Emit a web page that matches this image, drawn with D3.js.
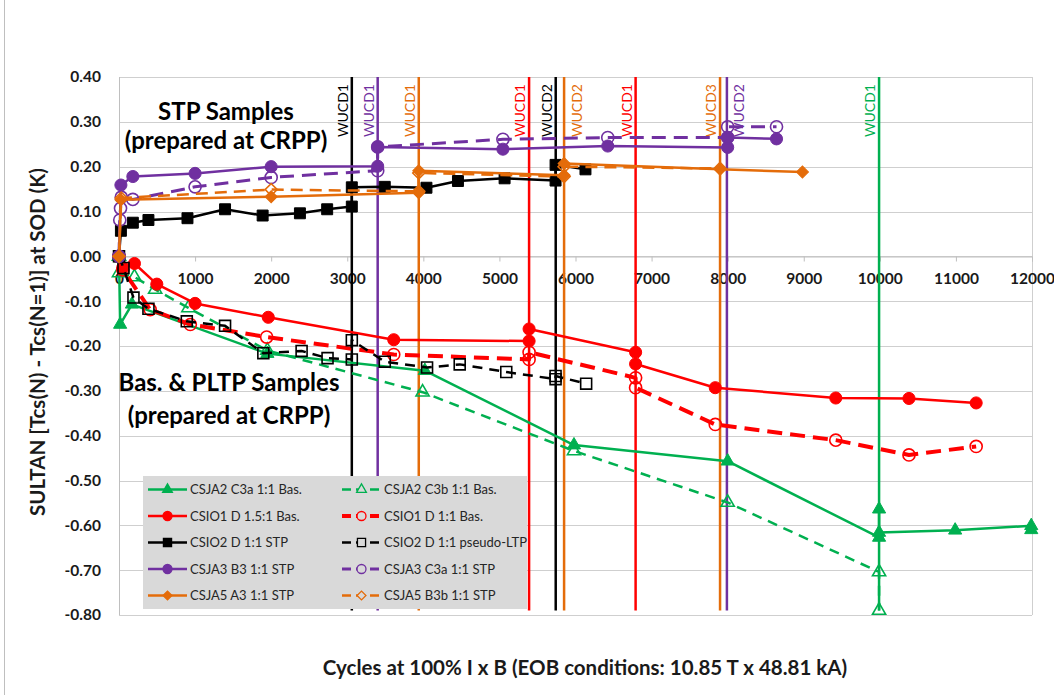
<!DOCTYPE html>
<html>
<head>
<meta charset="utf-8">
<script src="https://cdn.jsdelivr.net/npm/d3@7"></script>
<style>
  body { margin: 0; background: #ffffff; }
  svg { display: block; font-family: Lato, "Open Sans", "DejaVu Sans", sans-serif; }
</style>
</head>
<body>
<svg id="chart" width="1054" height="695"></svg>
<script>
// ---------- axis ticks ----------
const xTickValues = [0, 1000, 2000, 3000, 4000, 5000, 6000, 7000, 8000, 9000, 10000, 11000, 12000];
const yTickValues = [0.40, 0.30, 0.20, 0.10, 0.00, -0.10, -0.20, -0.30, -0.40, -0.50, -0.60, -0.70, -0.80];

// ---------- series: cycles and Tcs shift (K) ----------
// CSJA2 C3a 1:1 Bas.
const csja2C3aCycles = [0, 15, 170, 1950, 4020, 5980, 8000, 9990, 9990, 9990, 10990, 11990, 11990];
const csja2C3aShift  = [0, -0.152, -0.107, -0.217, -0.255, -0.421, -0.457, -0.627, -0.564, -0.616, -0.611, -0.601, -0.610];
// CSJA2 C3b 1:1 Bas.
const csja2C3bCycles = [0, 0, 203, 475, 912, 1950, 3990, 5980, 8000, 9990, 9990];
const csja2C3bShift  = [0, -0.037, -0.046, -0.074, -0.115, -0.210, -0.303, -0.434, -0.549, -0.704, -0.790];
// CSIO1 D 1.5:1 Bas.
const csio1D15Cycles = [0, 50, 203, 497, 1000, 1962, 3611, 5390, 5390, 6790, 6790, 7837, 9421, 10383, 11266];
const csio1D15Shift  = [0, -0.025, -0.016, -0.062, -0.105, -0.136, -0.186, -0.189, -0.162, -0.214, -0.240, -0.293, -0.316, -0.317, -0.327];
// CSIO1 D 1:1 Bas.
const csio1D11Cycles = [0, 50, 410, 937, 1941, 3611, 5390, 5390, 6790, 6790, 7837, 9421, 10383, 11266];
const csio1D11Shift  = [0, -0.030, -0.119, -0.152, -0.180, -0.219, -0.230, -0.214, -0.271, -0.293, -0.375, -0.410, -0.443, -0.424];
// CSIO2 D 1:1 STP
const csio2StpCycles = [0, 25, 182, 387, 900, 1394, 1888, 2378, 2736, 3060, 3060, 3493, 4041, 4455, 5068, 5738, 5738, 6131];
const csio2StpShift  = [0, 0.057, 0.075, 0.081, 0.085, 0.105, 0.091, 0.096, 0.105, 0.111, 0.154, 0.155, 0.153, 0.168, 0.174, 0.169, 0.204, 0.194];
// CSIO2 D 1:1 pseudo-LTP
const csio2LtpCycles = [0, 59, 190, 387, 891, 1394, 1897, 2400, 2741, 3060, 3060, 3493, 4049, 4478, 5090, 5738, 5738, 6140];
const csio2LtpShift  = [0, -0.026, -0.092, -0.117, -0.145, -0.155, -0.216, -0.211, -0.227, -0.230, -0.187, -0.235, -0.248, -0.241, -0.258, -0.274, -0.267, -0.284];
// CSJA3 B3 1:1 STP
const csja3B3Cycles = [0, 25, 182, 1000, 2000, 3400, 3400, 5046, 6424, 8000, 8000, 8642];
const csja3B3Shift  = [0, 0.159, 0.178, 0.185, 0.200, 0.201, 0.244, 0.239, 0.246, 0.243, 0.265, 0.262];
// CSJA3 C3a 1:1 STP
const csja3C3aCycles = [0, 10, 20, 30, 182, 1000, 2000, 3400, 3400, 5046, 6424, 8000, 8000, 8642];
const csja3C3aShift  = [0, 0.081, 0.107, 0.132, 0.127, 0.155, 0.176, 0.191, 0.244, 0.261, 0.265, 0.265, 0.289, 0.289];
// CSJA5 A3 1:1 STP
const csja5A3Cycles = [0, 25, 2000, 3940, 3940, 5850, 5850, 7900, 8983];
const csja5A3Shift  = [0, 0.126, 0.133, 0.142, 0.191, 0.181, 0.207, 0.194, 0.188];
// CSJA5 B3b 1:1 STP
const csja5B3bCycles = [0, 30, 2000, 3940, 3940, 5850, 5850, 7900];
const csja5B3bShift  = [0, 0.130, 0.149, 0.145, 0.186, 0.178, 0.200, 0.196];

// ---------- warm-up / cool-down events ----------
const wucdCycles = [3060, 3400, 3940, 5390, 5740, 5850, 6790, 7900, 7990, 9990];
const wucdLabels = ["WUCD1", "WUCD1", "WUCD1", "WUCD1", "WUCD2", "WUCD2", "WUCD1", "WUCD3", "WUCD2", "WUCD1"];
const wucdSample = ["csio2", "csja3", "csja5", "csio1", "csio2", "csja5", "csio1", "csja5", "csja3", "csja2"];
const wucdLabelSide = ["left", "left", "left", "left", "left", "right", "left", "left", "right", "left"];

// ---------- annotations ----------
const stpNote = ["STP Samples", "(prepared at CRPP)"];
const basNote = ["Bas. & PLTP Samples", "(prepared at CRPP)"];
const yTitle = "SULTAN [Tcs(N) - Tcs(N=1)] at SOD (K)";
const xTitle = "Cycles at 100% I x B (EOB conditions: 10.85 T x 48.81 kA)";

// ---------- styling ----------
const sampleColor = {
  csja2: "#00b050",
  csio1: "#ff0000",
  csio2: "#000000",
  csja3: "#7030a0",
  csja5: "#e46c0a"
};

const series = [
  { name: "CSJA2 C3a 1:1 Bas.",      xs: csja2C3aCycles, ys: csja2C3aShift, sample: "csja2", marker: "triangle", filled: true,  dash: null,    width: 2.5 },
  { name: "CSJA2 C3b 1:1 Bas.",      xs: csja2C3bCycles, ys: csja2C3bShift, sample: "csja2", marker: "triangle", filled: false, dash: "10,7",  width: 2.5 },
  { name: "CSIO1 D 1.5:1 Bas.",      xs: csio1D15Cycles, ys: csio1D15Shift, sample: "csio1", marker: "circle",   filled: true,  dash: null,    width: 2.5 },
  { name: "CSIO1 D 1:1 Bas.",        xs: csio1D11Cycles, ys: csio1D11Shift, sample: "csio1", marker: "circle",   filled: false, dash: "15,8",  width: 4 },
  { name: "CSIO2 D 1:1 STP",         xs: csio2StpCycles, ys: csio2StpShift, sample: "csio2", marker: "square",   filled: true,  dash: null,    width: 2.5 },
  { name: "CSIO2 D 1:1 pseudo-LTP",  xs: csio2LtpCycles, ys: csio2LtpShift, sample: "csio2", marker: "square",   filled: false, dash: "10,7",  width: 2.5 },
  { name: "CSJA3 B3 1:1 STP",        xs: csja3B3Cycles,  ys: csja3B3Shift,  sample: "csja3", marker: "circle",   filled: true,  dash: null,    width: 2.5 },
  { name: "CSJA3 C3a 1:1 STP",       xs: csja3C3aCycles, ys: csja3C3aShift, sample: "csja3", marker: "circle",   filled: false, dash: "14,8",  width: 3 },
  { name: "CSJA5 A3 1:1 STP",        xs: csja5A3Cycles,  ys: csja5A3Shift,  sample: "csja5", marker: "diamond",  filled: true,  dash: null,    width: 2.5 },
  { name: "CSJA5 B3b 1:1 STP",       xs: csja5B3bCycles, ys: csja5B3bShift, sample: "csja5", marker: "diamond",  filled: false, dash: "12,7",  width: 2.5 }
];

const symbolType = {
  circle: d3.symbolCircle,
  square: d3.symbolSquare,
  triangle: d3.symbolTriangle,
  diamond: d3.symbolSquare
};
const symbolSize = { circle: 115, square: 120, triangle: 75, diamond: 72 };

// ---------- scales ----------
const plot = { left: 119, right: 1032, top: 77, bottom: 615 };
const x = d3.scaleLinear().domain([0, 12000]).range([plot.left, plot.right]);
const y = d3.scaleLinear().domain([-0.8, 0.4]).range([plot.bottom, plot.top]);

const locale = d3.formatLocale({ decimal: ".", thousands: "", grouping: [3], currency: ["", ""], minus: "-" });
const fmtY = locale.format(".2f");
const fmtX = locale.format("d");

const svg = d3.select("#chart");

// chart frame edge
svg.append("line")
  .attr("x1", 4.5).attr("x2", 4.5).attr("y1", 0).attr("y2", 695)
  .attr("stroke", "#bfbfbf").attr("stroke-width", 1);

// horizontal gridlines
svg.append("g")
  .selectAll("line")
  .data(yTickValues)
  .join("line")
  .attr("x1", plot.left).attr("x2", plot.right)
  .attr("y1", d => Math.round(y(d)) + 0.5).attr("y2", d => Math.round(y(d)) + 0.5)
  .attr("stroke", "#cfcfcf").attr("stroke-width", 1);

// plot-area sides
svg.append("line")
  .attr("x1", plot.left + 0.5).attr("x2", plot.left + 0.5)
  .attr("y1", plot.top).attr("y2", plot.bottom)
  .attr("stroke", "#bfbfbf");
svg.append("line")
  .attr("x1", plot.right + 0.5).attr("x2", plot.right + 0.5)
  .attr("y1", plot.top).attr("y2", plot.bottom)
  .attr("stroke", "#cfcfcf");

// y axis labels
const yAxis = svg.append("g")
  .attr("transform", `translate(${plot.left},0)`)
  .call(d3.axisLeft(y).tickValues(yTickValues).tickFormat(fmtY).tickSize(0).tickPadding(18));
yAxis.select(".domain").remove();
yAxis.selectAll("text")
  .attr("font-family", "Lato, 'Open Sans', sans-serif")
  .attr("font-size", 15.5).attr("font-weight", 700).attr("fill", "#1a1a1a");

// x axis crossing at zero
const xAxis = svg.append("g")
  .attr("transform", `translate(0,${Math.round(y(0)) + 0.5})`)
  .call(d3.axisBottom(x).tickValues(xTickValues).tickFormat(fmtX).tickSize(5).tickPadding(11));
xAxis.select(".domain").attr("stroke", "#bfbfbf");
xAxis.selectAll(".tick line").attr("stroke", "#bfbfbf");
xAxis.selectAll("text")
  .attr("font-family", "Lato, 'Open Sans', sans-serif")
  .attr("font-size", 15.5).attr("font-weight", 700).attr("fill", "#1a1a1a");

// warm-up / cool-down markers
const wucd = wucdCycles.map((c, i) => ({ c, label: wucdLabels[i], color: sampleColor[wucdSample[i]], side: wucdLabelSide[i] }));
const wucdG = svg.append("g");
wucdG.selectAll("line")
  .data(wucd)
  .join("line")
  .attr("x1", d => x(d.c)).attr("x2", d => x(d.c))
  .attr("y1", y(0.4)).attr("y2", y(-0.79))
  .attr("stroke", d => d.color).attr("stroke-width", 2.5);
wucdG.selectAll("text")
  .data(wucd)
  .join("text")
  .attr("transform", d => `translate(${x(d.c) + (d.side === "left" ? -4 : 17.5)},84) rotate(-90)`)
  .attr("text-anchor", "end")
  .attr("font-size", 14)
  .attr("fill", d => d.color)
  .text(d => d.label);

// series lines and markers
const lineGen = d3.line().x(d => x(d[0])).y(d => y(d[1]));
function symbolPath(kind, scale) {
  return d3.symbol().type(symbolType[kind]).size(symbolSize[kind] * (scale || 1))();
}

series.forEach(s => {
  const pts = s.xs.map((c, i) => [c, s.ys[i]]);
  const color = sampleColor[s.sample];
  const g = svg.append("g");
  g.append("path")
    .attr("d", lineGen(pts))
    .attr("fill", "none")
    .attr("stroke", color)
    .attr("stroke-width", s.width)
    .attr("stroke-dasharray", s.dash)
    .attr("stroke-linejoin", "round");
  g.selectAll("path.mk")
    .data(pts)
    .join("path")
    .attr("class", "mk")
    .attr("d", symbolPath(s.marker))
    .attr("transform", d => `translate(${x(d[0])},${y(d[1])})${s.marker === "diamond" ? " rotate(45)" : ""}`)
    .attr("fill", s.filled ? color : "none")
    .attr("stroke", color)
    .attr("stroke-width", s.filled ? 1 : 1.6);
});

// sample-group notes
function note(lines, cx, baselines) {
  svg.append("g").selectAll("text")
    .data(lines)
    .join("text")
    .attr("x", cx).attr("y", (d, i) => baselines[i])
    .attr("text-anchor", "middle")
    .attr("font-size", 24).attr("font-weight", 700).attr("fill", "#000")
    .text(d => d);
}
note(stpNote, 226, [120, 149]);
note(basNote, 229, [391, 424]);

// legend
const legend = svg.append("g");
legend.append("rect")
  .attr("x", 143).attr("y", 476).attr("width", 384).attr("height", 133)
  .attr("fill", "#d9d9d9");
const legendItems = legend.selectAll("g.item")
  .data(series)
  .join("g")
  .attr("class", "item")
  .attr("transform", (d, i) => `translate(${i % 2 === 0 ? 148 : 342},${489.5 + Math.floor(i / 2) * 26.5})`);
legendItems.append("line")
  .attr("x1", 0).attr("x2", 39).attr("y1", 0).attr("y2", 0)
  .attr("stroke", d => sampleColor[d.sample])
  .attr("stroke-width", d => d.width)
  .attr("stroke-dasharray", d => d.dash ? "9,5" : null);
legendItems.append("path")
  .attr("d", d => symbolPath(d.marker, 0.55))
  .attr("transform", d => `translate(19.5,0)${d.marker === "diamond" ? " rotate(45)" : ""}`)
  .attr("fill", d => d.filled ? sampleColor[d.sample] : "#d9d9d9")
  .attr("stroke", d => sampleColor[d.sample])
  .attr("stroke-width", 1.3);
legendItems.append("text")
  .attr("x", 42).attr("y", 0).attr("dy", "0.35em")
  .attr("font-size", 13).attr("fill", "#262626")
  .text(d => d.name);

// axis titles
svg.append("text")
  .attr("transform", `translate(45,${(plot.top + plot.bottom) / 2 - 4}) rotate(-90)`)
  .attr("text-anchor", "middle")
  .attr("font-size", 20.5).attr("font-weight", 700).attr("fill", "#1a1a1a")
  .text(yTitle);
svg.append("text")
  .attr("x", 585).attr("y", 675)
  .attr("text-anchor", "middle")
  .attr("font-size", 20.5).attr("font-weight", 700).attr("fill", "#1a1a1a")
  .text(xTitle);
</script>
</body>
</html>
